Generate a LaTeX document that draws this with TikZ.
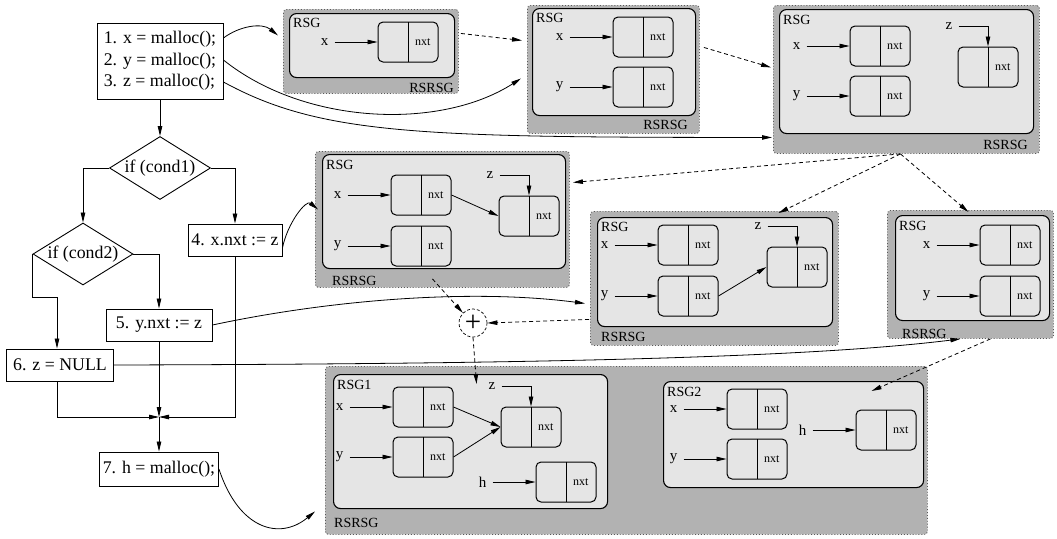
\documentclass[tikz,border=0pt]{standalone}
\usepackage{fontspec}
\setmainfont{Liberation Serif}
\usetikzlibrary{shapes.geometric, arrows.meta, positioning}
\newcommand\flowfont{\fontsize{17.8}{21.5}\selectfont}
\newcommand\varfont{\fontsize{15}{18}\selectfont}
\newcommand\tagfont{\fontsize{14}{16}\selectfont}
\newcommand\nxtfont{\fontsize{12}{14}\selectfont}

\begin{document}
\begin{tikzpicture}[
    x=1pt, y=-1pt,
    box/.style={rectangle, draw, line width=0.9pt, font=\flowfont, inner sep=2pt},
    test/.style={diamond, draw, line width=0.9pt, font=\flowfont, inner sep=0pt, aspect=1.6},
    outer/.style={rectangle, anchor=north west, inner sep=0pt, fill=black!30,
                  draw=black!65, dotted, line width=0.9pt, rounded corners=3pt},
    inner/.style={rectangle, anchor=north west, inner sep=0pt, fill=black!10,
                  draw=black, line width=1.1pt, rounded corners=7pt},
    cell/.style={rectangle, draw, fill=black!10, line width=1pt, rounded corners=5pt,
                 minimum width=60pt, minimum height=40pt, inner sep=0pt,
                 text width=45pt, align=right, font=\nxtfont,
                 path picture={\draw[line width=1pt] (path picture bounding box.north) -- (path picture bounding box.south);}},
    var/.style={inner sep=6pt, font=\varfont},
    tag/.style={inner sep=0pt, font=\tagfont},
    arrow/.style={-{Triangle[length=10pt,width=4.5pt]}, line width=0.8pt},
    dasharrow/.style={arrow, dash pattern=on 4pt off 3pt},
    plusnode/.style={circle, draw, dash pattern=on 3pt off 2pt, line width=0.7pt,
                     minimum size=28pt, inner sep=0pt, font=\fontsize{29}{29}\selectfont}
]
\fill[white] (0,0) rectangle (1057,538);
\useasboundingbox (0,0) rectangle (1057,538);

% program
\node[box, align=left, minimum width=126pt, minimum height=76pt] (s123) at (160,61)
    {1. x = malloc();\\2. y = malloc();\\3. z = malloc();};
\node[test, minimum width=101pt, minimum height=63pt] (d1) at (160,168) {if (cond1)};
\node[test, minimum width=100pt, minimum height=62pt] (d2) at (83,254) {if (cond2)};
\node[box, minimum width=94pt, minimum height=32pt] (s4) at (235,240) {4. x.nxt := z};
\node[box, minimum width=106pt, minimum height=32pt] (s5) at (159,325) {5. y.nxt := z};
\node[box, minimum width=107pt, minimum height=32pt] (s6) at (60,365) {6. z = NULL};
\coordinate (m) at (159,417);
\node[box, minimum width=119pt, minimum height=34pt] (s7) at (159,469) {7. h = malloc();};

\draw[arrow] (s123) -- (d1);
\draw[arrow] (d1.west) -| (d2.north);
\draw[arrow] (d1.east) -| (s4.north);
\draw[arrow] (d2.east) -| (s5.north);
\draw[arrow] (d2.west) -- ++(0,43) -| ([xshift=-3pt]s6.north);
\draw[arrow] (s4) |- (m);
\draw[arrow] (s5) -- (m);
\draw[arrow] ([xshift=-3pt]s6.south) |- (m);
\draw[arrow] (m) -- (s7);

% shape graphs
\node[outer, minimum width=175pt, minimum height=84pt] (pA) at (283,9) {};
\node[inner, minimum width=165pt, minimum height=64pt] (iA) at (289,13) {};
\node[outer, minimum width=172pt, minimum height=128pt] (pB) at (527,5) {};
\node[inner, minimum width=163pt, minimum height=107pt] (iB) at (532,8) {};
\node[outer, minimum width=266pt, minimum height=148pt] (pC) at (773,5) {};
\node[inner, minimum width=254pt, minimum height=124pt] (iC) at (779,9) {};
\node[outer, minimum width=254pt, minimum height=136pt] (pD) at (315,151) {};
\node[inner, minimum width=243pt, minimum height=114pt] (iD) at (322,154) {};
\node[outer, minimum width=248pt, minimum height=134pt] (pE) at (590,211) {};
\node[inner, minimum width=235pt, minimum height=109pt] (iE) at (597,217) {};
\node[outer, minimum width=166pt, minimum height=128pt] (pF) at (887,210) {};
\node[inner, minimum width=154pt, minimum height=105pt] (iF) at (895,215) {};
\node[outer, minimum width=602pt, minimum height=168pt] (pG) at (325,366) {};
\node[inner, minimum width=274pt, minimum height=134pt] (iG) at (333,374) {};
\node[inner, minimum width=260pt, minimum height=106pt] (iH) at (663,381) {};

\node[tag, anchor=north west] (tA) at ([shift={(4,5)}]iA.north west) {RSG};
\node[tag, anchor=north west] (tB) at ([shift={(4,5)}]iB.north west) {RSG};
\node[tag, anchor=north west] (tC) at ([shift={(4,6)}]iC.north west) {RSG};
\node[tag, anchor=north west] (tD) at ([shift={(4,6)}]iD.north west) {RSG};
\node[tag, anchor=north west] (tE) at ([shift={(4,5)}]iE.north west) {RSG};
\node[tag, anchor=north west] (tF) at ([shift={(4,6)}]iF.north west) {RSG};
\node[tag, anchor=north west] (tG) at ([shift={(4,6)}]iG.north west) {RSG1};
\node[tag, anchor=north west] (tH) at ([shift={(4,6)}]iH.north west) {RSG2};

\node[tag, anchor=east] (rA) at ([shift={(-5,-6)}]pA.south east) {RSRSG};
\node[tag, anchor=east] (rB) at ([shift={(-12,-9)}]pB.south east) {RSRSG};
\node[tag, anchor=east] (rC) at ([shift={(-12,-9)}]pC.south east) {RSRSG};
\node[tag, anchor=west] (rD) at ([shift={(17,-7)}]pD.south west) {RSRSG};
\node[tag, anchor=west] (rE) at ([shift={(11,-9)}]pE.south west) {RSRSG};
\node[tag, anchor=west] (rF) at ([shift={(15,-5)}]pF.south west) {RSRSG};
\node[tag, anchor=west] (rG) at ([shift={(9,-12)}]pG.south west) {RSRSG};

\node[cell] (cAx) at (408,42) {nxt};
\node[cell] (cBx) at (643,37) {nxt};
\node[cell] (cBy) at (643,87) {nxt};
\node[cell] (cCx) at (880,46) {nxt};
\node[cell] (cCy) at (880,96) {nxt};
\node[cell] (cCz) at (988,67) {nxt};
\node[cell] (cDx) at (421,195) {nxt};
\node[cell] (cDy) at (421,246) {nxt};
\node[cell] (cDz) at (529,216) {nxt};
\node[cell] (cEx) at (688,245) {nxt};
\node[cell] (cEy) at (688,296) {nxt};
\node[cell] (cEz) at (797,267) {nxt};
\node[cell] (cFx) at (1010,245) {nxt};
\node[cell] (cFy) at (1010,296) {nxt};
\node[cell] (cGx) at (423,407) {nxt};
\node[cell] (cGy) at (423,457) {nxt};
\node[cell] (cGz) at (531,427) {nxt};
\node[cell] (cGh) at (566,482) {nxt};
\node[cell] (cHx) at (757,409) {nxt};
\node[cell] (cHy) at (757,459) {nxt};
\node[cell] (cHh) at (886,430) {nxt};

\node[var, left=43pt of cAx] (vAx) {x};
\node[var, left=43pt of cBx] (vBx) {x};
\node[var, left=43pt of cBy] (vBy) {y};
\node[var, left=43pt of cCx] (vCx) {x};
\node[var, left=43pt of cCy] (vCy) {y};
\node[var, left=43pt of cDx] (vDx) {x};
\node[var, left=43pt of cDy] (vDy) {y};
\node[var, left=43pt of cEx] (vEx) {x};
\node[var, left=43pt of cEy] (vEy) {y};
\node[var, left=43pt of cFx] (vFx) {x};
\node[var, left=43pt of cFy] (vFy) {y};
\node[var, left=43pt of cGx] (vGx) {x};
\node[var, left=43pt of cGy] (vGy) {y};
\node[var, left=43pt of cGh] (vGh) {h};
\node[var, left=43pt of cHx] (vHx) {x};
\node[var, left=43pt of cHy] (vHy) {y};
\node[var, left=43pt of cHh] (vHh) {h};
\node[var] (vCz) at ([shift={(-39,-20)}]cCz.north) {z};
\node[var] (vDz) at ([shift={(-39,-20)}]cDz.north) {z};
\node[var] (vEz) at ([shift={(-39,-20)}]cEz.north) {z};
\node[var] (vGz) at ([shift={(-39,-20)}]cGz.north) {z};

\foreach \v in {Ax,Bx,By,Cx,Cy,Dx,Dy,Ex,Ey,Fx,Fy,Gx,Gy,Gh,Hx,Hy,Hh}
    \draw[arrow] (v\v) -- (c\v);
\foreach \v in {C,D,E,G}
    \draw[arrow] (v\v z) -| (c\v z.north);
\draw[arrow] (cDx.east) -- (cDz.west);
\draw[arrow] (cEy.east) -- (cEz.west);
\draw[arrow] (cGx.east) -- (cGz.west);
\draw[arrow] (cGy.east) -- (cGz.west);

\node[plusnode] (pl) at (473,323) {+};

% statements to graphs
\draw[arrow] ([shift={(0,-23)}]s123.east) .. controls +(16,-12) and +(-16,-13) .. ([shift={(-5,-16)}]pA.west);
\draw[arrow] ([shift={(0,-1)}]s123.east) .. controls +(81,65) and +(-81,52) .. ([shift={(-6,9)}]pB.west);
\draw[arrow] ([shift={(0,21)}]s123.east) .. controls +(97,53) and +(-352,0) .. ([shift={(-1,58)}]pC.west);
\draw[arrow] ([shift={(0,8)}]s4.east) .. controls +(5,-25) and +(-12,-10) .. ([shift={(3,-10)}]pD.west);
\draw[arrow] (s5.east) .. controls +(117,-25) and +(-115,-15) .. ([shift={(-5,25)}]pE.west);
\draw[arrow] (s6.east) .. controls +(386,-1) and +(-160,20) .. ([shift={(-10,0)}]pF.south);
\draw[arrow] (s7.east) .. controls +(20,61) and +(-35,29) .. ([shift={(-10,61)}]pG.west);

\draw[dasharrow] ([shift={(2,-18)}]pA.east) -- ([shift={(-5,-29)}]pB.west);
\draw[dasharrow] ([shift={(4,-22)}]pB.east) -- ([shift={(-2,-12)}]pC.west);
\draw[dasharrow] ([shift={(-6,0)}]pC.south) -- ([shift={(3,-37)}]pD.east);
\draw[dasharrow] ([shift={(-6,0)}]pC.south) -- ([shift={(64,2)}]pE.north);
\draw[dasharrow] ([shift={(-6,0)}]pC.south) -- ([shift={(-2,2)}]pF.north);
\draw[dasharrow] ([shift={(-10,-9)}]pD.south) -- (pl.north west);
\draw[dasharrow] ([shift={(-1,41)}]pE.west) -- (pl.east);
\draw[dasharrow] (pl.south) -- ([shift={(6,10)}]iG.north);
\draw[dasharrow] ([shift={(20,0)}]pF.south) -- ([shift={(78,10)}]iH.north);

\end{tikzpicture}
\end{document}
